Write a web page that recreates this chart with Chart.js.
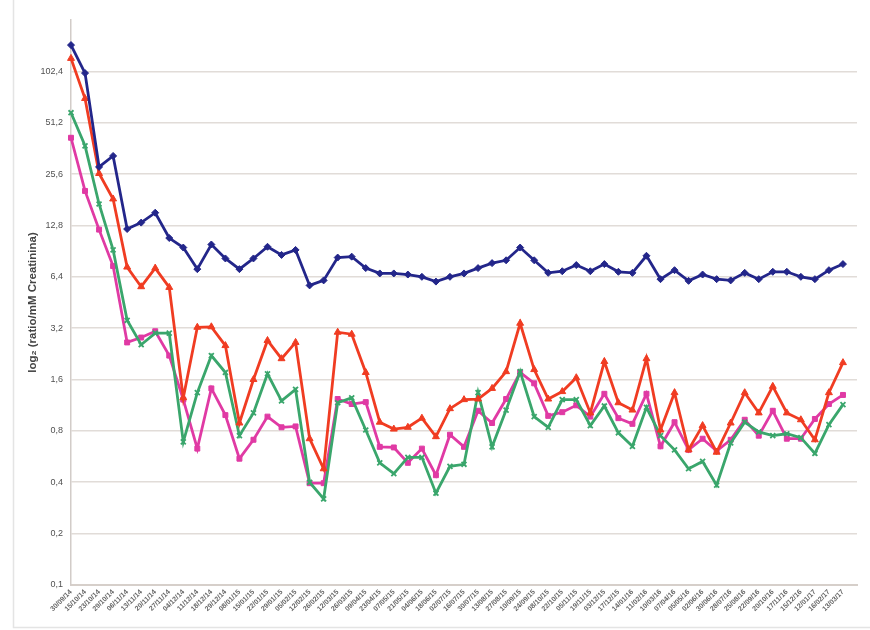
<!DOCTYPE html>
<html>
<head>
<meta charset="utf-8">
<script src="https://cdn.jsdelivr.net/npm/chart.js@4/dist/chart.umd.min.js"></script>
<style>
  html, body { margin: 0; padding: 0; background: #ffffff; }
  #wrap { width: 870px; height: 630px; position: relative; }
</style>
</head>
<body>
<div id="wrap"><canvas id="c" width="870" height="630"></canvas></div>
<script>
// Sampling dates (dd/mm/yy)
const dates = [
  "30/09/14","15/10/14","23/10/14","29/10/14","06/11/14","13/11/14","20/11/14","27/11/14",
  "04/12/14","11/12/14","18/12/14","29/12/14","08/01/15","15/01/15","22/01/15","29/01/15",
  "05/02/15","12/02/15","26/02/15","12/03/15","26/03/15","09/04/15","23/04/15","07/05/15",
  "21/05/15","04/06/15","18/06/15","02/07/15","16/07/15","30/07/15","13/08/15","27/08/15",
  "10/09/15","24/09/15","08/10/15","22/10/15","05/11/15","19/11/15","03/12/15","17/12/15",
  "14/01/16","11/02/16","10/03/16","07/04/16","05/05/16","02/06/16","30/06/16","28/07/16",
  "25/08/16","22/09/16","20/10/16","17/11/16","15/12/16","12/01/17","16/02/17","13/03/17"
];

// Ratios per mM creatinine
const seriesBlue = [
  146, 100, 28.2, 32.7, 12.2, 13.3, 15.2, 10.8, 9.5, 7.1, 9.9, 8.2, 7.1, 8.2, 9.6, 8.6,
  9.2, 5.7, 6.1, 8.3, 8.4, 7.2, 6.7, 6.7, 6.6, 6.4, 6.0, 6.4, 6.7, 7.2, 7.7, 8.0,
  9.5, 8.0, 6.75, 6.9, 7.5, 6.9, 7.6, 6.85, 6.75, 8.5, 6.2, 7.0, 6.06, 6.6, 6.2, 6.1,
  6.75, 6.2, 6.85, 6.85, 6.4, 6.2, 7.0, 7.6
];
const seriesRed = [
  122, 71, 25.8, 18.3, 7.3, 5.6, 7.2, 5.55, 1.25, 3.24, 3.26, 2.53, 0.89, 1.6, 2.71, 2.12,
  2.64, 0.72, 0.48, 3.03, 2.95, 1.76, 0.90, 0.82, 0.84, 0.95, 0.74, 1.08, 1.22, 1.23, 1.42, 1.78,
  3.42, 1.83, 1.23, 1.36, 1.64, 1.02, 2.04, 1.17, 1.06, 2.12, 0.81, 1.34, 0.62, 0.86, 0.60, 0.89,
  1.34, 1.02, 1.46, 1.02, 0.93, 0.71, 1.34, 2.01
];
const seriesGreen = [
  58.6, 37.5, 17.1, 9.2, 3.56, 2.56, 2.99, 2.99, 0.69, 1.34, 2.21, 1.76, 0.75, 1.02, 1.73, 1.2,
  1.4, 0.4, 0.32, 1.17, 1.25, 0.81, 0.52, 0.45, 0.56, 0.56, 0.345, 0.496, 0.51, 1.34, 0.645, 1.06,
  1.78, 0.97, 0.84, 1.22, 1.22, 0.86, 1.12, 0.78, 0.65, 1.1, 0.75, 0.62, 0.48, 0.53, 0.385, 0.68,
  0.9, 0.79, 0.75, 0.77, 0.73, 0.59, 0.87, 1.14
];
const seriesMagenta = [
  41.8, 20.4, 12.1, 7.4, 2.64, 2.82, 3.07, 2.21, 1.22, 0.63, 1.42, 0.99, 0.55, 0.71, 0.97, 0.84,
  0.85, 0.395, 0.395, 1.23, 1.15, 1.18, 0.645, 0.64, 0.52, 0.63, 0.44, 0.76, 0.645, 1.05, 0.89, 1.23,
  1.76, 1.52, 0.98, 1.03, 1.13, 0.97, 1.32, 0.95, 0.88, 1.32, 0.65, 0.9, 0.62, 0.72, 0.61, 0.71,
  0.93, 0.75, 1.05, 0.72, 0.72, 0.94, 1.15, 1.3
];

// Base-2 tick values for the log axis
const yTicks = [0.1, 0.2, 0.4, 0.8, 1.6, 3.2, 6.4, 12.8, 25.6, 51.2, 102.4];
const yMax = 204.8;

// one trailing empty slot leaves a little room after the last sample
const labels = dates.concat([""]);

function ds(data, color, style, radius) {
  return {
    data: data.concat([null]),
    borderColor: color,
    backgroundColor: color,
    pointBackgroundColor: color,
    pointBorderColor: color,
    borderWidth: 2.8,
    pointStyle: style,
    pointRadius: radius,
    pointHoverRadius: radius,
    pointBorderWidth: style === 'crossRot' ? 1.8 : 1,
    tension: 0,
    spanGaps: false
  };
}

// faint outer frame on the left and bottom edges
const framePlugin = {
  id: 'frame',
  beforeDraw(chart) {
    const ctx = chart.ctx;
    ctx.save();
    ctx.strokeStyle = '#e4e4e4';
    ctx.lineWidth = 1.5;
    ctx.beginPath();
    ctx.moveTo(13.5, 0);
    ctx.lineTo(13.5, 627.5);
    ctx.lineTo(870, 627.5);
    ctx.stroke();
    ctx.restore();
  }
};

new Chart(document.getElementById('c'), {
  type: 'line',
  data: {
    labels: labels,
    datasets: [
      ds(seriesBlue, '#23268a', 'rectRot', 3.5),
      ds(seriesRed, '#f03c22', 'triangle', 4),
      ds(seriesGreen, '#3aa66c', 'crossRot', 3.5),
      ds(seriesMagenta, '#e03aa4', 'rect', 3.5)
    ]
  },
  options: {
    responsive: false,
    animation: false,
    layout: { padding: { left: 20, top: 20, right: 13, bottom: 0 } },
    plugins: {
      legend: { display: false },
      tooltip: { enabled: false }
    },
    scales: {
      x: {
        type: 'category',
        offset: false,
        grid: { display: false, drawTicks: false },
        border: { display: true, color: '#d6cfca', width: 2 },
        ticks: {
          autoSkip: false,
          minRotation: 45,
          maxRotation: 45,
          padding: 3,
          color: '#666666',
          font: { family: 'Liberation Sans, Arial, sans-serif', size: 7, weight: 'bold' }
        },
        afterFit(scale) { scale.height = 45; }
      },
      y: {
        type: 'logarithmic',
        min: 0.1,
        max: yMax,
        afterBuildTicks(scale) {
          scale.ticks = yTicks.map(v => ({ value: v }));
        },
        grid: {
          color: '#e1dcd8',
          lineWidth: 1.6,
          drawTicks: false
        },
        border: { display: true, color: '#d2ccc8', width: 1.5 },
        ticks: {
          padding: 8,
          color: '#505050',
          font: { family: 'Liberation Sans, Arial, sans-serif', size: 9 },
          callback(v) { return String(v).replace('.', ','); }
        },
        title: {
          display: true,
          text: 'log\u2082 (ratio/mM Creatinina)',
          color: '#444444',
          font: { family: 'Liberation Sans, Arial, sans-serif', size: 11.5, weight: 'bold' },
          padding: { top: 6, bottom: 0 }
        },
        afterFit(scale) { scale.width = 51; }
      }
    }
  },
  plugins: [framePlugin]
});
</script>
</body>
</html>
